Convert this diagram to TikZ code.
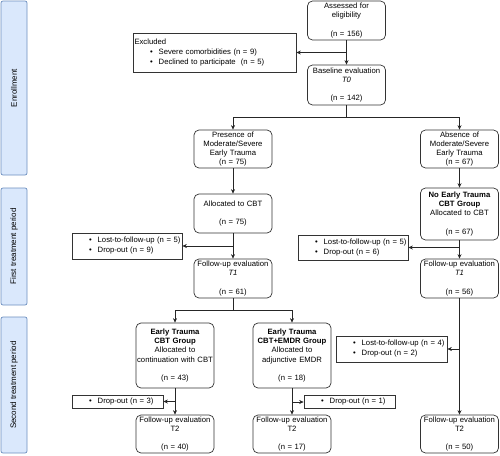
\documentclass[tikz,border=0pt]{standalone}
\usepackage{fontspec}
\setmainfont{Liberation Sans}
\usetikzlibrary{arrows.meta}
\definecolor{barfill}{HTML}{DAE8FC}
\definecolor{barline}{HTML}{6C8EBF}
\newcommand{\blt}[1]{\mbox{\hspace*{15.5pt}\textbullet\hspace{6pt}#1}}

\begin{document}
\begin{tikzpicture}[x=1pt,y=-1pt,line width=0.7pt,
    box/.style={draw=black!80, rounded corners=5pt, align=center, inner sep=0.5pt,
      minimum width=78pt, text width=77pt, minimum height=39pt,
      font=\fontsize{7.7}{9.3}\selectfont},
    listbox/.style={draw=black!80, align=left, inner sep=1.5pt,
      font=\fontsize{7.7}{10}\selectfont},
    bar/.style={draw=barline, fill=barfill, rounded corners=2pt, rotate=90,
      minimum height=26pt, font=\fontsize{8}{9.6}\selectfont},
    arr/.style={-{Stealth[length=4.5pt,width=4pt]}, draw=black!85},
    line/.style={draw=black!85}]
  \useasboundingbox (0,0) rectangle (500,455);

  % period bars
  \node[bar, minimum width=174pt] (enroll) at (14,88) {Enrollment};
  \node[bar, minimum width=117pt] (first) at (14,246.5) {First treatment period};
  \node[bar, minimum width=136pt] (second) at (14,385) {Second treatment period};

  % enrollment
  \node[box] (assess) at (346.5,20.5) {Assessed for\\ eligibility\\~\\(n = 156)};
  \node[listbox, minimum width=163pt, minimum height=39pt, text width=160pt] (excl) at (214.5,52.5)
    {Excluded\\ \blt{Severe comorbidities (n = 9)}\\ \blt{Declined to participate\ \ (n = 5)}};
  \node[box, minimum height=40pt] (base) at (346.5,85) {Baseline evaluation\\ \textit{T0}\\~\\(n = 142)};
  \node[box, minimum height=38pt] (pres) at (233,149) {Presence of\\ Moderate/Severe\\ Early Trauma\\(n = 75)};
  \node[box, minimum height=38pt] (abs) at (459.5,149) {Absence of\\ Moderate/Severe\\ Early Trauma\\(n = 67)};

  % first treatment period
  \node[box] (alloc) at (233,213.5) {Allocated to CBT\\~\\(n = 75)};
  \node[box, minimum height=52pt] (noet) at (459.5,214)
    {\textbf{No Early Trauma}\\ \textbf{CBT Group}\\ Allocated to CBT\\~\\(n = 67)};
  \node[listbox, minimum width=110pt, minimum height=26pt, text width=107pt] (drop1) at (127,246)
    {\blt{Lost-to-follow-up (n = 5)}\\ \blt{Drop-out (n = 9)}};
  \node[listbox, minimum width=110pt, minimum height=25pt, text width=107pt] (drop2) at (353,247.5)
    {\blt{Lost-to-follow-up (n = 5)}\\ \blt{Drop-out (n = 6)}};
  \node[box] (fuone) at (233,278.5) {Follow-up evaluation\\ \textit{T1}\\~\\(n = 61)};
  \node[box] (fuoneb) at (459.5,278.5) {Follow-up evaluation\\ \textit{T1}\\~\\(n = 56)};

  % second treatment period
  \node[box, minimum height=65pt] (etcbt) at (175,355.5)
    {\textbf{Early Trauma}\\ \textbf{CBT Group}\\ Allocated to\\ continuation with CBT\\~\\(n = 43)};
  \node[box, minimum height=65pt] (etemdr) at (292,355.5)
    {\textbf{Early Trauma}\\ \textbf{CBT+EMDR Group}\\ Allocated to\\ adjunctive EMDR\\~\\(n = 18)};
  \node[listbox, minimum width=111pt, minimum height=26pt, text width=108pt] (drop5) at (391.5,349)
    {\blt{Lost-to-follow-up (n = 4)}\\ \blt{Drop-out (n = 2)}};
  \node[listbox, minimum width=91pt, minimum height=13pt, text width=88pt] (drop3) at (117.5,401.5)
    {\blt{Drop-out (n = 3)}};
  \node[listbox, minimum width=91pt, minimum height=13pt, text width=88pt] (drop4) at (349.5,402)
    {\blt{Drop-out (n = 1)}};
  \node[box, minimum height=38pt] (futwoa) at (175,434) {Follow-up evaluation\\ T2\\~\\(n = 40)};
  \node[box, minimum height=38pt] (futwob) at (292,434) {Follow-up evaluation\\ T2\\~\\(n = 17)};
  \node[box, minimum height=38pt] (futwoc) at (459.5,434) {Follow-up evaluation\\ T2\\~\\(n = 50)};

  % connectors
  \draw[arr] (assess.south) -- (base.north);
  \draw[arr] (assess.south |- excl.east) -- (excl.east);
  \draw[line] (base.south) -- ++(0,12) coordinate (split1);
  \draw[arr] (split1) -| (pres.north);
  \draw[arr] (split1) -| (abs.north);
  \draw[arr] (pres.south) -- (alloc.north);
  \draw[arr] (abs.south) -- (noet.north);
  \draw[arr] (alloc.south) -- (fuone.north);
  \draw[arr] (alloc.south |- drop1.east) -- (drop1.east);
  \draw[arr] (noet.south) -- (fuoneb.north);
  \draw[arr] (noet.south |- drop2.east) -- (drop2.east);
  \draw[line] (fuone.south) -- ++(0,12) coordinate (split2);
  \draw[arr] (split2) -| (etcbt.north);
  \draw[arr] (split2) -| (etemdr.north);
  \draw[arr] (etcbt.south) -- (futwoa.north);
  \draw[arr] (etcbt.south |- drop3.east) -- (drop3.east);
  \draw[arr] (etemdr.south) -- (futwob.north);
  \draw[arr] (etemdr.south |- drop4.west) -- (drop4.west);
  \draw[arr] (fuoneb.south) -- (futwoc.north);
  \draw[arr] (fuoneb.south |- drop5.east) -- (drop5.east);
\end{tikzpicture}
\end{document}
